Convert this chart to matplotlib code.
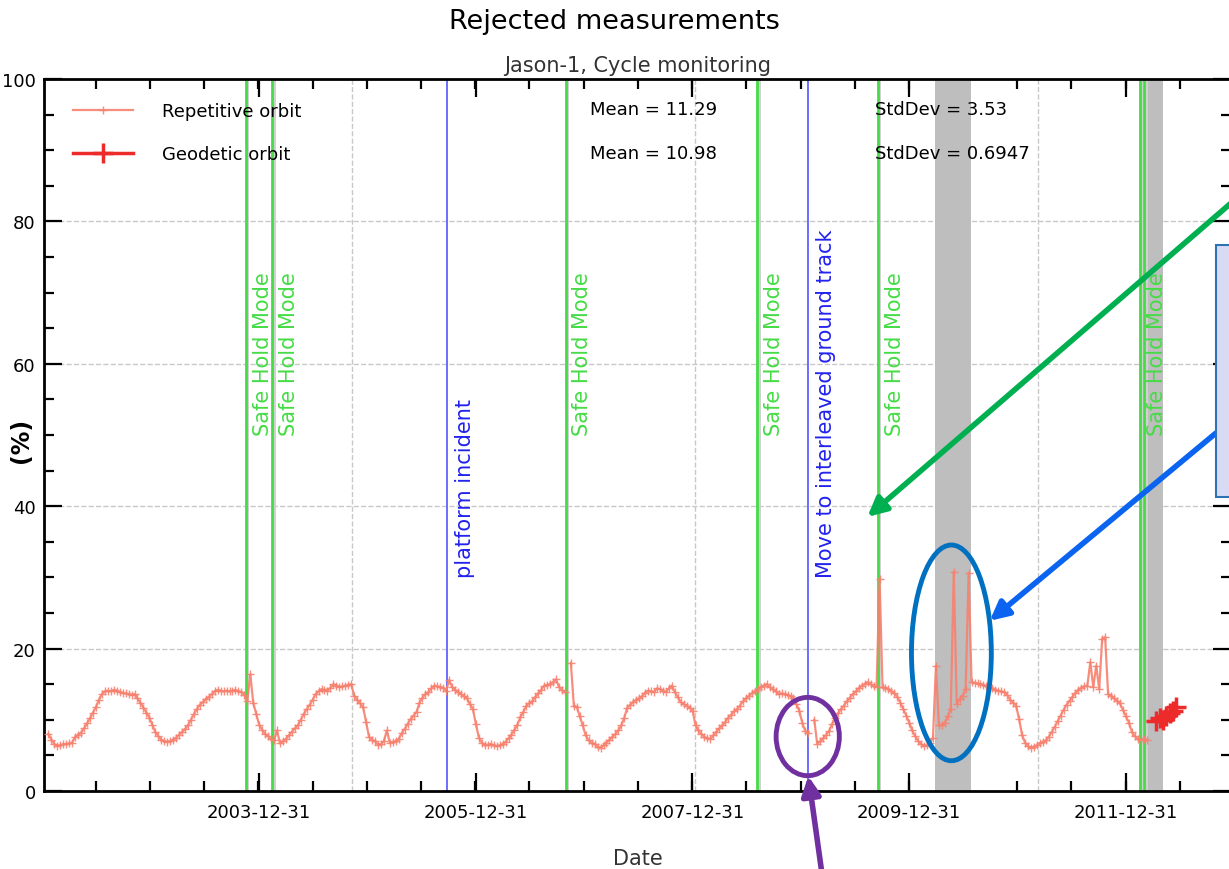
#!/usr/bin/env python3
"""
Jason-1 cycle monitoring: rejected measurements (%) per cycle, with
event markers (safe hold modes, incidents) and overlay annotations.
"""
import matplotlib
matplotlib.use("Agg")
import matplotlib.pyplot as plt
import matplotlib.dates as mdates
import matplotlib.patches as mpatches
import numpy as np
import pandas as pd

# --- data ---------------------------------------------------------------
rep_start = "2002-01-22"     # first repetitive cycle
rep_step_days = 10.0         # spacing between cycles
rep_values = [
    8.0, 7.2, 6.6, 6.3, 6.4, 6.6, 6.6, 6.7, 6.8, 7.6,
    7.9, 8.2, 8.8, 9.5, 10.2, 11.0, 11.8, 12.8, 13.6, 14.0,
    14.1, 14.0, 14.2, 14.1, 13.9, 13.8, 13.7, 13.6, 13.5, 13.6,
    13.0, 12.4, 11.7, 11.0, 10.3, 9.3, 8.3, 7.7, 7.2, 7.0,
    6.9, 7.0, 7.2, 7.5, 7.9, 8.3, 8.7, 9.2, 10.0, 10.8,
    11.5, 12.1, 12.5, 12.9, 13.2, 13.6, 14.0, 14.2, 14.1, 14.0,
    14.1, 14.0, 14.1, 14.2, 14.0, 13.9, 13.5, 12.7, 16.4, 12.4,
    10.8, 9.3, 8.6, 8.0, 7.7, 7.3, 7.1, 8.5, 6.7, 7.0,
    7.3, 7.8, 8.3,
    8.8, 9.2, 10.0, 10.8, 11.5, 12.1, 12.8, 13.6, 14.0, 14.3,
    14.2, 14.1, 14.5, 15.0, 14.8, 14.6, 14.7, 14.8, 14.9, 15.0,
    13.4, 12.8, 12.3, 11.8, 9.7, 7.6, 7.2, 7.0, 6.5, 6.6,
    7.0, 8.5, 6.8, 6.9, 7.0, 7.3, 8.1, 8.7, 9.4, 10.1,
    10.6, 11.1, 12.4, 13.1, 13.6, 13.9, 14.4, 14.8, 14.7, 14.6,
    14.5, 14.1, 15.6, 14.6, 14.2, 13.9, 13.6, 13.3, 13.0, 12.2,
    11.5, 9.4, 7.5, 6.8, 6.4, 6.5, 6.6, 6.4, 6.3, 6.4,
    6.6, 6.9, 7.4, 7.9, 8.6, 9.3, 10.4, 11.1, 12.0, 12.3,
    12.6, 13.2, 13.7,
    14.2, 14.8, 14.9, 15.0, 15.3, 15.7, 14.6, 14.2, 13.9, np.nan,
    18.0, 12.0, 11.8, 10.5, 9.2, 7.8, 7.1, 6.8, 6.6, 6.2,
    6.1, 6.4, 6.8, 7.2, 7.6, 8.0, 8.5, 9.2, 10.3, 11.7,
    12.1, 12.5, 12.8, 13.0, 13.3, 13.8, 14.1, 14.0, 13.9, 14.4,
    14.3, 14.1, 13.9, 14.4, 14.8, 13.9, 13.2, 12.5, 12.2, 12.0,
    11.7, 11.3, 9.2, 8.5, 8.0, 7.6, 7.4, 7.3, 7.8, 8.3,
    8.8, 9.2, 9.7, 10.3, 10.7, 11.2, 11.5, 12.0, 12.6, 13.0,
    13.4, 13.7, 14.0, 14.3, 14.6, 14.8, 15.0, 14.6, 14.3, 14.0,
    13.6,
    13.7, 13.6, 13.5, 13.3, 13.0, 12.2, 11.2, 9.5, 8.4, 8.2,
    np.nan, 10.0, 6.6, 7.0, 7.4, 7.9, 8.4, 9.4, 10.3, 10.9,
    11.5, 12.0, 12.6, 13.1, 13.6, 14.0, 14.4, 14.8, 15.0, 15.3,
    15.0, 14.7, 14.6, 29.8, 14.6, 14.5, 14.3, 14.0, 13.7, 13.2,
    12.4, 11.5, 10.6, 9.6, 8.5, 7.7, 7.0, 6.6, 6.3, 6.4,
    6.7, 7.5, 17.6, 9.2, 9.3, 9.6, 10.5, 11.5, 30.8, 12.2,
    12.9, 13.4, 14.3, 30.6, 15.3, 15.2, 15.1, 15.0, 14.9, 14.7,
    14.6, 14.4, 14.2, 14.1, 14.0, 13.9, 13.5, 12.8, 12.4, 12.0,
    10.1, 7.9, 6.8, 6.3, 6.1, 6.2, 6.4, 6.7, 6.9, 7.1,
    7.6, 8.3, 9.0, 9.8, 10.6, 11.4, 12.1, 12.7, 13.2, 13.8,
    14.2, 14.5, 14.7, 14.8, 18.1, 14.6, 17.6, 14.3, 21.4, 21.6,
    13.6, 13.4, 13.0, 12.7, 12.3, 11.4, 10.5, 9.6, 8.3, 7.7,
    7.3, 7.2, 7.3, 7.1,
]
geo_dates = ["2012-04-12", "2012-04-23", "2012-05-04", "2012-05-15",
             "2012-05-26", "2012-06-06", "2012-06-17"]
geo_values = [9.8, 10.2, 10.0, 10.6, 11.0, 11.3, 11.8]

stats_rep = ("Mean = 11.29", "StdDev = 3.53")
stats_geo = ("Mean = 10.98", "StdDev = 0.6947")

# safe hold events; the last line of the 2012 pair carries no extra label
safe_hold = [("2003-11-18", "Safe Hold Mode"), ("2004-02-14", "Safe Hold Mode"),
             ("2006-10-30", "Safe Hold Mode"), ("2008-08-05", "Safe Hold Mode"),
             ("2009-09-16", "Safe Hold Mode"), ("2012-02-16", "Safe Hold Mode"),
             ("2012-03-01", "")]
blue_events = [("2005-09-25", "platform incident"),
               ("2009-01-24", "Move to interleaved ground track")]
gray_spans = [("2010-03-27", "2010-07-27"), ("2012-03-01", "2012-05-04")]
vgrid_dates = ["2004-11-08", "2008-01-08", "2011-03-09"]
xtick_dates = ["2003-12-31", "2005-12-31", "2007-12-31", "2009-12-31", "2011-12-31"]
xlim = ("2002-01-07", "2012-12-19")

rep_dates = pd.Timestamp(rep_start) + pd.to_timedelta(
    np.arange(len(rep_values)) * rep_step_days, unit="D")
geo_dt = pd.to_datetime(geo_dates)

W, H = 1229, 870
GREEN = "#45dc45"
SALMON = "#f7816f"

# --- figure ---------------------------------------------------------------
fig = plt.figure(figsize=(W / 100, H / 100), dpi=100)
ax = fig.add_axes([44 / W, (H - 792) / H, (1231 - 44) / W, (792 - 80) / H])

for a, b in gray_spans:
    ax.axvspan(pd.Timestamp(a), pd.Timestamp(b), color="#bebebe", lw=0, zorder=1)
for d, label in safe_hold:
    t = pd.Timestamp(d)
    ax.axvspan(t, t + pd.Timedelta(days=12), color="#d0d0d0", lw=0, zorder=1)
    ax.axvline(t, color=GREEN, lw=2, zorder=2)
    if label:
        ax.annotate(label, (t, 50), xytext=(5, 0), textcoords="offset points",
                    rotation=90, ha="left", va="bottom", color=GREEN, fontsize=15)
for d, label in blue_events:
    t = pd.Timestamp(d)
    ax.axvline(t, color="#5555ff", lw=1.2, zorder=2)
    ax.annotate(label, (t, 30), xytext=(6, 0), textcoords="offset points",
                rotation=90, ha="left", va="bottom", color="#2222ee", fontsize=15)

for d in vgrid_dates:
    ax.axvline(pd.Timestamp(d), color="#c8c8c8", ls="--", lw=1, zorder=0)
ax.yaxis.grid(True, which="major", ls="--", color="#c8c8c8", lw=1)
ax.set_axisbelow(True)

ax.plot(rep_dates, rep_values, color=SALMON, lw=1.6, marker="+", ms=6, mew=1,
        alpha=0.9, zorder=3, label="Repetitive orbit")
ax.plot(geo_dt, geo_values, color="#ee2b2b", lw=2.5, marker="+", ms=15, mew=2.5,
        zorder=3, label="Geodetic orbit")

ax.set_xlim(pd.Timestamp(xlim[0]), pd.Timestamp(xlim[1]))
ax.set_ylim(0, 100)
ax.xaxis.set_major_locator(matplotlib.ticker.FixedLocator(
    mdates.date2num(pd.to_datetime(xtick_dates))))
ax.xaxis.set_major_formatter(mdates.DateFormatter("%Y-%m-%d"))
ax.xaxis.set_minor_locator(mdates.MonthLocator(bymonth=(6, 12), bymonthday=30))
ax.yaxis.set_major_locator(matplotlib.ticker.MultipleLocator(20))
ax.yaxis.set_minor_locator(matplotlib.ticker.MultipleLocator(5))
ax.tick_params(which="both", direction="in", top=True, right=True, width=1.6)
ax.tick_params(which="major", length=13, labelsize=13)
ax.tick_params(which="minor", length=7)
ax.tick_params(axis="x", pad=9)
ax.tick_params(axis="y", pad=6)
for s in ax.spines.values():
    s.set_linewidth(2)

ax.set_xlabel("Date", fontsize=15, color="#333333", labelpad=19)
fig.text(21 / W, 1 - 440 / H, "(%)", rotation=90, ha="center", va="center",
         fontsize=17, fontweight="bold")
ax.set_title("Jason-1, Cycle monitoring", fontsize=15, color="#333333", pad=6)
fig.suptitle("Rejected measurements", fontsize=19.5, y=1 - 22 / H, va="center")

ax.legend(loc="upper left", bbox_to_anchor=(0.005, 1.0), frameon=False, fontsize=13,
          handlelength=3.3, handletextpad=1.6, labelspacing=1.38, borderaxespad=0.9)
for row, (m, s) in zip((0.958, 0.896), (stats_rep, stats_geo)):
    ax.text(0.46, row, m, transform=ax.transAxes, fontsize=13, va="center")
    ax.text(0.70, row, s, transform=ax.transAxes, fontsize=13, va="center")

# --- overlay annotations ----------------------------------------------------
def fx(x, y):
    return (x / W, 1 - y / H)

box = mpatches.Rectangle(fx(1216, 498), (1240 - 1216) / W, (498 - 246) / H,
                         transform=fig.transFigure, facecolor="#d9dbf4",
                         edgecolor="#2e74b5", lw=1.5, zorder=10)
fig.add_artist(box)

ax.add_patch(mpatches.Ellipse((mdates.date2num(pd.Timestamp("2010-05-22")), 19.4),
                              width=269, height=30.3, fill=False, ec="#0070c0",
                              lw=3.5, clip_on=False, zorder=11))
ax.add_patch(mpatches.Ellipse((mdates.date2num(pd.Timestamp("2009-01-23")), 7.65),
                              width=213, height=11.0, fill=False, ec="#7030a0",
                              lw=3.5, clip_on=False, zorder=11))

arrows = [
    ("2009-08-12", 38.5, fx(1245, 192), "#00b050"),
    ("2010-09-28", 23.9, fx(1216, 434), "#0a64f0"),
    ("2009-01-25", 2.1, fx(822, 875), "#7030a0"),
]
for d, v, start, col in arrows:
    ax.annotate("", xy=(pd.Timestamp(d), v), xycoords="data",
                xytext=start, textcoords="figure fraction",
                arrowprops=dict(arrowstyle="-|>", color=col, lw=4, mutation_scale=28,
                                shrinkA=0, shrinkB=0),
                annotation_clip=False, zorder=12)

fig.savefig("out.png", dpi=100)
